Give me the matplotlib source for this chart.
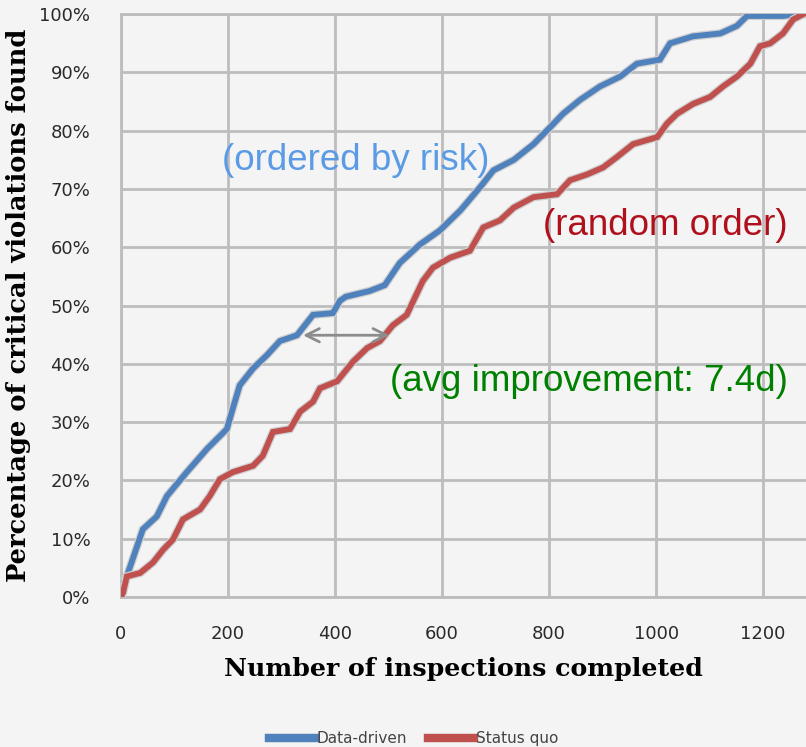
import matplotlib
matplotlib.use('Agg')
import matplotlib.pyplot as plt
import matplotlib.patheffects as pe
from matplotlib.ticker import PercentFormatter

# values
dd_x = [0, 11, 41, 67, 86, 123, 161, 198, 209, 222, 247, 273, 297, 329, 359, 396,
        409, 420, 465, 493, 521, 559, 596, 634, 671, 696, 734, 771, 802, 826, 858,
        895, 933, 964, 1007, 1026, 1069, 1120, 1151, 1170, 1237, 1263, 1275]
dd_y = [1.5, 3.5, 11.6, 13.8, 17.3, 21.4, 25.4, 28.8, 32.3, 36.3, 39.2, 41.5, 43.9,
        44.9, 48.4, 48.7, 50.8, 51.5, 52.5, 53.5, 57.3, 60.5, 62.9, 66.3, 70.3, 73.2,
        75.0, 77.7, 80.6, 82.9, 85.3, 87.6, 89.3, 91.5, 92.2, 95.0, 96.2, 96.7, 98.0,
        99.7, 99.7, 100, 100]

sq_x = [0, 4, 11, 36, 60, 79, 97, 116, 148, 166, 185, 209, 247, 265, 284, 316, 335,
        359, 372, 404, 434, 460, 484, 508, 534, 564, 583, 615, 652, 677, 708, 734,
        771, 815, 839, 871, 901, 927, 957, 1002, 1020, 1039, 1069, 1101, 1125, 1151,
        1176, 1194, 1213, 1237, 1256, 1275]
sq_y = [0, 0.7, 3.5, 4.1, 5.9, 8.1, 9.8, 13.3, 15.0, 17.3, 20.2, 21.4, 22.5, 24.2,
        28.3, 28.8, 31.8, 33.5, 35.8, 37.0, 40.4, 42.7, 43.9, 46.6, 48.4, 54.2, 56.5,
        58.2, 59.4, 63.4, 64.6, 66.8, 68.6, 69.1, 71.5, 72.5, 73.7, 75.5, 77.7, 78.9,
        81.2, 82.9, 84.6, 85.8, 87.6, 89.3, 91.5, 94.5, 95.0, 96.7, 99.1, 100]

x_ticks = [0, 200, 400, 600, 800, 1000, 1200]
y_ticks = [0, 10, 20, 30, 40, 50, 60, 70, 80, 90, 100]
series_names = ['Data-driven', 'Status quo']

bg = '#f4f4f4'
fig = plt.figure(figsize=(8.06, 7.47), dpi=100, facecolor=bg)
ax = fig.add_axes([0.150, 0.201, 0.850, 0.780])
ax.set_facecolor(bg)

outline = [pe.Stroke(linewidth=6, foreground='#cfcfcf'), pe.Normal()]
ax.plot(dd_x, dd_y, color='#4f81bd', lw=4.2, label=series_names[0],
        path_effects=outline, solid_joinstyle='miter', zorder=3)
ax.plot(sq_x, sq_y, color='#c0504d', lw=4.2, label=series_names[1],
        path_effects=outline, solid_joinstyle='miter', zorder=3)

ax.set_xlim(0, 1280)
ax.set_ylim(0, 100)
ax.set_xticks(x_ticks)
ax.set_yticks(y_ticks)
ax.yaxis.set_major_formatter(PercentFormatter(decimals=0))
ax.grid(True, color='#bdbdbd', lw=2)
ax.set_axisbelow(True)
for s in ['left', 'bottom', 'top']:
    ax.spines[s].set_color('#bdbdbd')
    ax.spines[s].set_linewidth(2)
ax.spines['right'].set_visible(False)
ax.tick_params(length=0, labelsize=13, labelcolor='#2a2a2a', pad=20)
ax.tick_params(axis='y', pad=22)

ax.set_xlabel('Number of inspections completed', family='DejaVu Serif',
              fontweight='bold', fontsize=18.2, labelpad=10)
ax.set_ylabel('Percentage of critical violations found', family='DejaVu Serif',
              fontweight='bold', fontsize=18.5, labelpad=6)

# annotations
ax.annotate('', xy=(335, 44.9), xytext=(507, 44.9),
            arrowprops=dict(arrowstyle='<->', color='#8c8c8c', lw=2,
                            mutation_scale=24))
ax.text(438, 74.9, '(ordered by risk)', color='#5b9be6', fontsize=26.5,
        family='Liberation Sans', ha='center', va='center')
ax.text(1017, 63.8, '(random order)', color='#b0101c', fontsize=26.5,
        family='Liberation Sans', ha='center', va='center')
ax.text(875, 36.9, '(avg improvement: 7.4d)', color='#008000', fontsize=26.5,
        family='Liberation Sans', ha='center', va='center')

leg = fig.legend(loc='lower center', bbox_to_anchor=(0.513, -0.017), ncol=2,
                 frameon=False, handlelength=3.0, columnspacing=1.4,
                 handletextpad=0.1, prop={'family': 'DejaVu Sans', 'size': 11})
for t in leg.get_texts():
    t.set_color('#444444')
for h in leg.legend_handles:
    h.set_linewidth(6)

fig.savefig('out.png', dpi=100, facecolor=bg)
